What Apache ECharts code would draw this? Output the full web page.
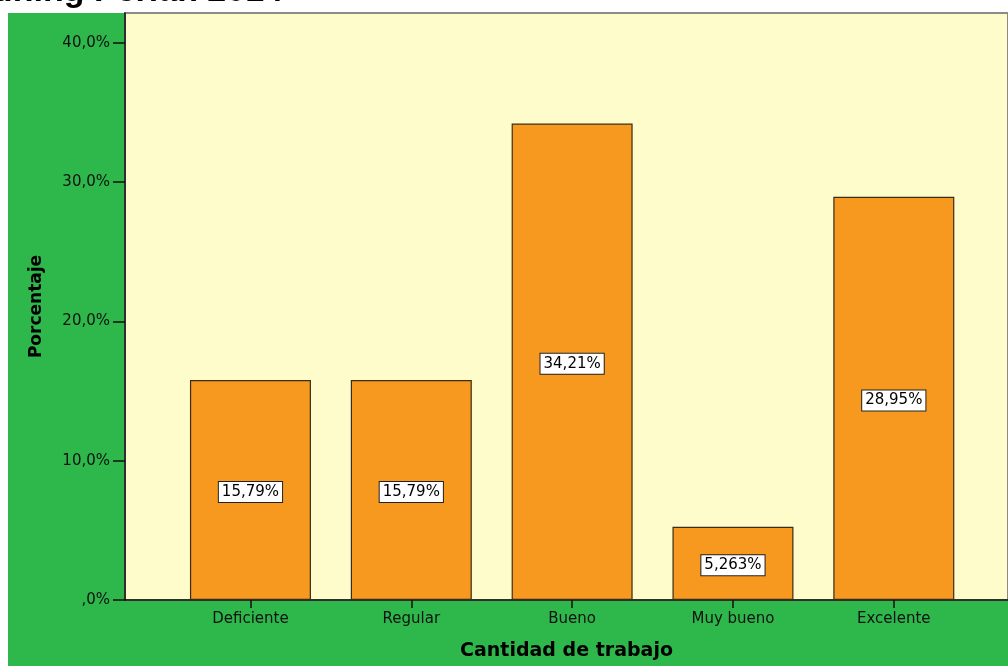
<!DOCTYPE html>
<html>
<head>
<meta charset="utf-8">
<script src="https://cdn.jsdelivr.net/npm/echarts@6/dist/echarts.min.js"></script>
<style>
  html, body { margin: 0; padding: 0; background: #ffffff; }
  #chart { width: 1008px; height: 666px; }
</style>
</head>
<body>
<div id="chart"></div>
<script>
// Categories on the horizontal axis
const categories = ['Deficiente', 'Regular', 'Bueno', 'Muy bueno', 'Excelente'];
// Percentage of respondents per category
const percentages = [15.79, 15.79, 34.21, 5.263, 28.95];
// Vertical axis tick values (percent)
const yTicks = [0, 10, 20, 30, 40];

const titleText = 'Training Perlan 2014';
const xTitle = 'Cantidad de trabajo';
const yTitle = 'Porcentaje';

const FONT = '"DejaVu Sans", Verdana, sans-serif';

function fmtTick(v) {
  const s = v.toFixed(1).replace('.', ',');
  return (v === 0 ? s.replace(/^0/, '') : s) + '%';
}
function fmtBar(v) {
  return v.toPrecision(4).replace('.', ',') + '%';
}

const catIdx = categories.map((_, i) => i);
const barData = percentages.map((v, i) => [i, v]);

const chart = echarts.init(document.getElementById('chart'), null, { renderer: 'canvas' });

chart.setOption({
  backgroundColor: '#ffffff',
  animation: false,
  graphic: [
    {
      type: 'rect',
      z: -10,
      silent: true,
      shape: { x: 8, y: 13, width: 1000, height: 653 },
      style: { fill: '#2eb84b' }
    },
    {
      type: 'text',
      z: 10,
      silent: true,
      style: {
        x: 283, y: 8.6,
        text: titleText,
        align: 'right',
        verticalAlign: 'bottom',
        font: 'bold 34px "Liberation Sans", Arial, sans-serif',
        fill: '#000000'
      }
    }
  ],
  grid: {
    left: 125,
    top: 13,
    right: 0,
    height: 587,
    show: true,
    backgroundColor: '#fffccc',
    borderColor: '#8a8a8a',
    borderWidth: 2,
    containLabel: false
  },
  xAxis: {
    type: 'value',
    min: -0.78,
    max: 4.71,
    name: xTitle,
    nameLocation: 'middle',
    nameGap: 42,
    nameTextStyle: { fontFamily: FONT, fontWeight: 'bold', fontSize: 19, color: '#000' },
    splitLine: { show: false },
    axisLine: { show: true, onZero: false, lineStyle: { color: '#111', width: 1.5 } },
    axisTick: { show: true, length: 8, customValues: catIdx, lineStyle: { color: '#111', width: 1.5 } },
    axisLabel: {
      customValues: catIdx,
      formatter: v => categories[Math.round(v)] || '',
      fontFamily: FONT,
      fontSize: 15,
      color: '#111',
      margin: 12
    }
  },
  yAxis: {
    type: 'value',
    min: 0,
    max: 42.15,
    name: yTitle,
    nameLocation: 'middle',
    nameGap: 80,
    nameTextStyle: { fontFamily: FONT, fontWeight: 'bold', fontSize: 17, color: '#000' },
    splitLine: { show: false },
    axisLine: { show: true, onZero: false, lineStyle: { color: '#111', width: 1.5 } },
    axisTick: { show: true, length: 12, customValues: yTicks, lineStyle: { color: '#111', width: 1.5 } },
    axisLabel: {
      customValues: yTicks,
      formatter: v => fmtTick(v),
      fontFamily: FONT,
      fontSize: 15,
      color: '#111',
      margin: 15
    }
  },
  series: [
    {
      type: 'bar',
      data: barData,
      barWidth: 121,
      itemStyle: { color: '#f7981f', borderColor: '#3a2c14', borderWidth: 1.2 },
      label: {
        show: true,
        position: 'inside',
        offset: [0, 2],
        formatter: p => fmtBar(p.value[1]),
        fontFamily: FONT,
        fontSize: 15,
        color: '#000',
        backgroundColor: '#ffffff',
        borderColor: '#222',
        borderWidth: 1,
        padding: [3, 3, 2, 3]
      }
    }
  ]
});
</script>
</body>
</html>
